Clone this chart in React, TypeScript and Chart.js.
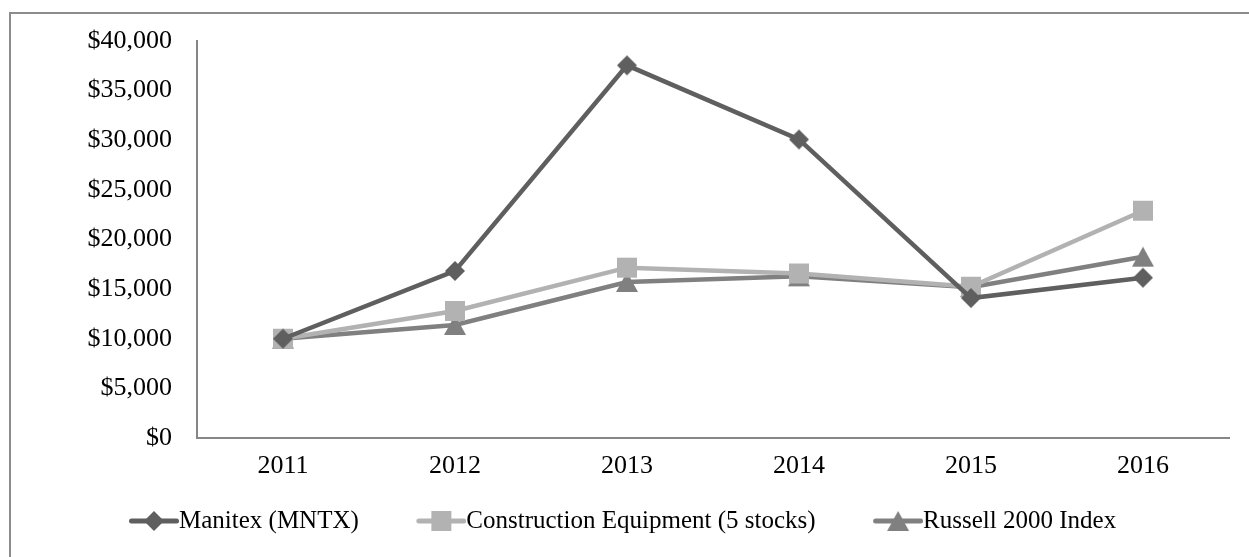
import React, { useEffect, useRef } from "react";
import { Chart, registerables } from "chart.js";

Chart.register(...registerables);

const categories = ["2011", "2012", "2013", "2014", "2015", "2016"];
const manitex = [10000, 16830, 37550, 30080, 14100, 16150];
const construction = [10000, 12800, 17160, 16580, 15240, 22900];
const russell = [10000, 11390, 15720, 16290, 15200, 18270];
const seriesNames = ["Manitex (MNTX)", "Construction Equipment (5 stocks)", "Russell 2000 Index"];
const seriesColors = ["#5f5f5f", "#b2b2b2", "#808080"];
const markerKinds = ["diamond", "square", "triangle"];

const FONT = "'Liberation Serif', 'Times New Roman', serif";
const TICK_SIZE = 26;
const LEG_SIZE = 25;
const LEG_PAD = 45;
const LEG_START = 116.5;
const LEG_CENTER_Y = 521;

function drawMarker(ctx: CanvasRenderingContext2D, kind: string, cx: number, cy: number, color: string) {
  ctx.fillStyle = color;
  ctx.beginPath();
  if (kind === "diamond") {
    const r = 10;
    ctx.moveTo(cx, cy - r);
    ctx.lineTo(cx + r, cy);
    ctx.lineTo(cx, cy + r);
    ctx.lineTo(cx - r, cy);
  } else if (kind === "square") {
    const h = 10;
    ctx.rect(cx - h, cy - h, 2 * h, 2 * h);
  } else {
    const hw = 11, hh = 10;
    ctx.moveTo(cx, cy - hh);
    ctx.lineTo(cx + hw, cy + hh);
    ctx.lineTo(cx - hw, cy + hh);
  }
  ctx.closePath();
  ctx.fill();
}

function markerCanvas(kind: string, color: string) {
  const c = document.createElement("canvas");
  c.width = 24;
  c.height = 24;
  const ctx = c.getContext("2d")!;
  drawMarker(ctx, kind, 12, 12, color);
  return c;
}

const LEG_BOX = 50;
function legendCanvas(kind: string, color: string) {
  const c = document.createElement("canvas");
  const extra = LEG_SIZE / 2;
  c.width = Math.round(LEG_BOX + 2 * extra);
  c.height = 24;
  const ctx = c.getContext("2d")!;
  const x0 = c.width - LEG_BOX;
  const x1 = c.width;
  ctx.strokeStyle = color;
  ctx.lineWidth = 5;
  ctx.lineCap = "round";
  ctx.beginPath();
  ctx.moveTo(x0 + 2.5, 12);
  ctx.lineTo(x1 - 2.5, 12);
  ctx.stroke();
  drawMarker(ctx, kind, (x0 + x1) / 2, 12, color);
  return c;
}

const legendShift = {
  id: "legendShift",
  afterLayout(chart: any) {
    const lg = chart.legend;
    if (!lg) return;
    const w = lg.right - lg.left;
    const h = lg.bottom - lg.top;
    lg.left = LEG_START - LEG_PAD;
    lg.right = lg.left + w;
    lg.top = LEG_CENTER_Y - LEG_PAD - LEG_SIZE / 2;
    lg.bottom = lg.top + h;
  },
};

export default function App() {
  const ref = useRef<HTMLCanvasElement | null>(null);
  useEffect(() => {
    if (!ref.current) return;
    const dataArrays = [manitex, construction, russell];
    const chart = new Chart(ref.current, {
      type: "line",
      data: {
        labels: categories,
        datasets: dataArrays.map((d, i) => ({
          label: seriesNames[i],
          data: d,
          borderColor: seriesColors[i],
          backgroundColor: seriesColors[i],
          borderWidth: 4.5,
          pointStyle: markerCanvas(markerKinds[i], seriesColors[i]),
          pointRadius: 10,
          tension: 0,
          fill: false,
        })),
      },
      plugins: [legendShift],
      options: {
        animation: false,
        responsive: false,
        maintainAspectRatio: false,
        layout: { padding: { left: 10, right: 20, top: 41, bottom: -5 } },
        plugins: {
          tooltip: { enabled: false },
          legend: {
            position: "bottom",
            align: "start",
            labels: {
              usePointStyle: true,
              pointStyleWidth: LEG_BOX,
              padding: LEG_PAD,
              color: "#000",
              font: { family: FONT, size: LEG_SIZE },
              generateLabels: () =>
                seriesNames.map((n, i) => ({
                  text: n,
                  datasetIndex: i,
                  fillStyle: seriesColors[i],
                  strokeStyle: seriesColors[i],
                  lineWidth: 0,
                  pointStyle: legendCanvas(markerKinds[i], seriesColors[i]),
                  hidden: false,
                  fontColor: "#000",
                })),
            },
          },
        },
        scales: {
          x: {
            offset: true,
            grid: { display: false, drawTicks: false },
            border: { display: true, color: "#868686", width: 2 },
            ticks: { color: "#000", font: { family: FONT, size: TICK_SIZE }, padding: 13 },
            afterFit: (s: any) => {
              s.height = 44;
            },
          },
          y: {
            min: 0,
            max: 40000,
            grid: { display: false, drawTicks: false },
            border: { display: true, color: "#868686", width: 2 },
            ticks: {
              stepSize: 5000,
              color: "#000",
              padding: 25,
              font: { family: FONT, size: TICK_SIZE },
              callback: (v: any) => "$" + Number(v).toLocaleString("en-US"),
            },
            afterFit: (s: any) => {
              s.width = 187;
            },
          },
        },
      },
    });
    return () => chart.destroy();
  }, []);
  return (
    <div style={{ position: "fixed", left: 0, top: 0, width: 1249, height: 557, overflow: "hidden", background: "#fff" }}>
      <div
        style={{
          position: "absolute",
          left: 9,
          top: 12,
          width: 1400,
          height: 700,
          borderLeft: "2px solid #8c8c8c",
          borderTop: "2px solid #8c8c8c",
        }}
      />
      <canvas ref={ref} width={1249} height={557} style={{ position: "absolute", left: 0, top: 0 }} />
    </div>
  );
}
